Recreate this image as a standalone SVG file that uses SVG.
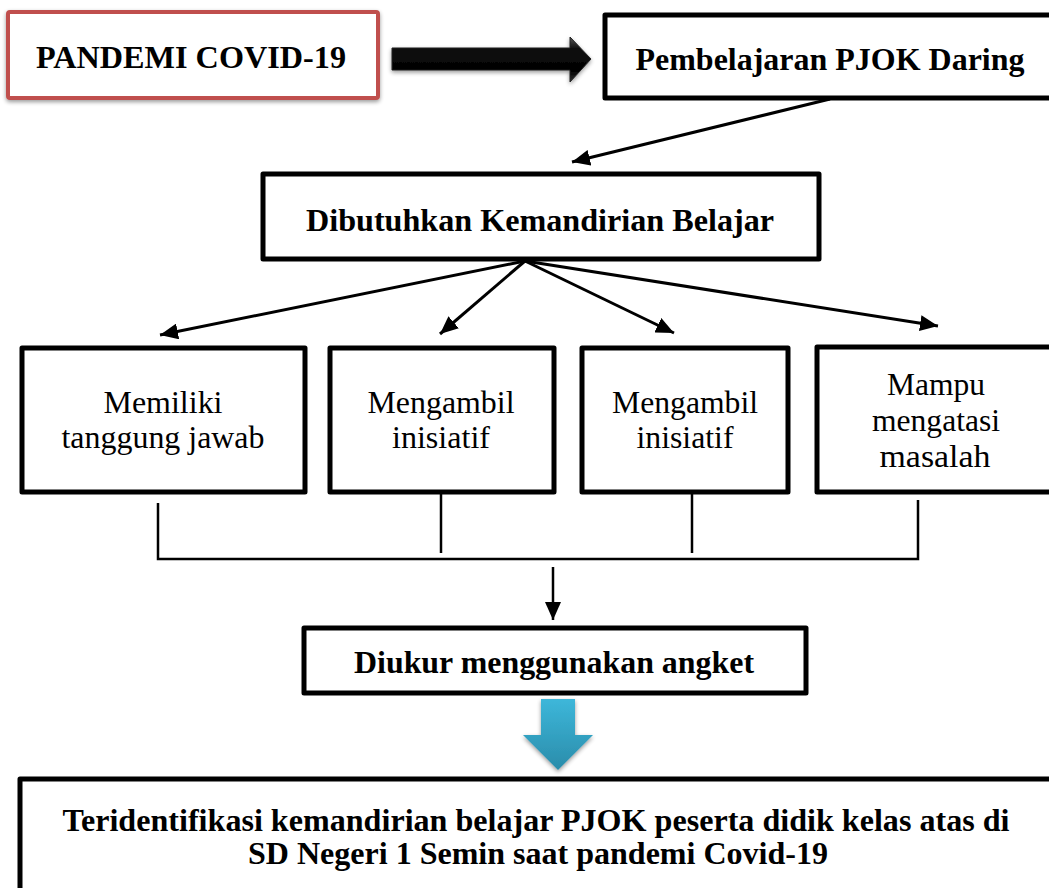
<svg xmlns="http://www.w3.org/2000/svg" width="1049" height="888" viewBox="0 0 1049 888">
<defs>
<style>
.box{fill:#fff;stroke:#000;stroke-width:5;stroke-linejoin:round}
.b{font-weight:bold;font-size:32px;fill:#000;text-anchor:middle}
.r{font-size:31px;fill:#000;text-anchor:middle}
.c{fill:none;stroke:#000;stroke-width:3}
.k{fill:none;stroke:#000;stroke-width:2.5}
</style>
<marker id="ah" markerUnits="userSpaceOnUse" markerWidth="20" markerHeight="16" viewBox="0 0 20 16" refX="18" refY="8" orient="auto">
<path d="M0,0 L18,8 L0,16 Z" fill="#000"/>
</marker>
<linearGradient id="blk" x1="0" y1="0" x2="0" y2="1">
<stop offset="0" stop-color="#555"/>
<stop offset="0.25" stop-color="#111"/>
<stop offset="0.75" stop-color="#000"/>
<stop offset="1" stop-color="#333"/>
</linearGradient>
<linearGradient id="blu" x1="0" y1="0" x2="0" y2="1">
<stop offset="0" stop-color="#3DB7DA"/>
<stop offset="1" stop-color="#2A8CAA"/>
</linearGradient>
<filter id="sh" x="-20%" y="-20%" width="140%" height="150%">
<feGaussianBlur in="SourceAlpha" stdDeviation="2"/>
<feOffset dx="0" dy="2" result="o"/>
<feComponentTransfer><feFuncA type="linear" slope="0.4"/></feComponentTransfer>
<feMerge><feMergeNode/><feMergeNode in="SourceGraphic"/></feMerge>
</filter>
</defs>
<rect width="1049" height="888" fill="#fff"/>
<g font-family="'Liberation Serif', 'Times New Roman', serif">

<g id="n-pandemi">
<rect x="8" y="12" width="370" height="86" rx="2" fill="#fff" stroke="#C0504D" stroke-width="4" filter="url(#sh)"/>
<text class="b" x="191" y="68" textLength="310" lengthAdjust="spacingAndGlyphs">PANDEMI COVID-19</text>
</g>

<g id="arrow-black" filter="url(#sh)">
<path d="M392,48 L570,48 L570,37 L591,59 L570,82 L570,70 L392,70 Z" fill="url(#blk)" stroke="#222" stroke-width="1"/>
</g>

<g id="n-pembelajaran">
<rect class="box" x="605" y="15" width="460" height="83"/>
<text class="b" x="830" y="70" textLength="389" lengthAdjust="spacingAndGlyphs">Pembelajaran PJOK Daring</text>
</g>

<g id="n-dibutuhkan">
<rect class="box" x="263" y="174" width="556" height="85"/>
<text class="b" x="540" y="231" textLength="468" lengthAdjust="spacingAndGlyphs">Dibutuhkan Kemandirian Belajar</text>
</g>

<g id="n-tanggung">
<rect class="box" x="22" y="348" width="283" height="144"/>
<text class="r" x="163" y="413" textLength="119" lengthAdjust="spacingAndGlyphs">Memiliki</text>
<text class="r" x="163" y="448" textLength="203" lengthAdjust="spacingAndGlyphs">tanggung jawab</text>
</g>

<g id="n-inisiatif1">
<rect class="box" x="330" y="348" width="224" height="144"/>
<text class="r" x="441" y="413" textLength="147" lengthAdjust="spacingAndGlyphs">Mengambil</text>
<text class="r" x="441" y="448" textLength="98" lengthAdjust="spacingAndGlyphs">inisiatif</text>
</g>

<g id="n-inisiatif2">
<rect class="box" x="582" y="348" width="206" height="144"/>
<text class="r" x="685" y="413" textLength="146" lengthAdjust="spacingAndGlyphs">Mengambil</text>
<text class="r" x="685" y="448" textLength="97" lengthAdjust="spacingAndGlyphs">inisiatif</text>
</g>

<g id="n-masalah">
<rect class="box" x="817" y="347" width="250" height="145"/>
<text class="r" x="936" y="395" textLength="98" lengthAdjust="spacingAndGlyphs">Mampu</text>
<text class="r" x="936" y="431" textLength="128" lengthAdjust="spacingAndGlyphs">mengatasi</text>
<text class="r" x="935" y="467" textLength="111" lengthAdjust="spacingAndGlyphs">masalah</text>
</g>

<g id="n-angket">
<rect class="box" x="304" y="628" width="502" height="65"/>
<text class="b" x="554" y="673" textLength="400" lengthAdjust="spacingAndGlyphs">Diukur menggunakan angket</text>
</g>

<g id="arrow-blue" filter="url(#sh)">
<path d="M541,699 L575,699 L575,735 L593,735 L558,770 L523,735 L541,735 Z" fill="url(#blu)"/>
</g>

<g id="n-hasil">
<rect class="box" x="20" y="779" width="1050" height="130"/>
<text class="b" x="536" y="831" textLength="947" lengthAdjust="spacingAndGlyphs">Teridentifikasi kemandirian belajar PJOK peserta didik kelas atas di</text>
<text class="b" x="538" y="864" textLength="580" lengthAdjust="spacingAndGlyphs">SD Negeri 1 Semin saat pandemi Covid-19</text>
</g>

</g>
<g id="connectors">
<line class="c" x1="830" y1="99" x2="572" y2="162" marker-end="url(#ah)"/>
<line class="c" x1="525" y1="261" x2="160" y2="335" marker-end="url(#ah)"/>
<line class="c" x1="525" y1="261" x2="440" y2="334" marker-end="url(#ah)"/>
<line class="c" x1="525" y1="261" x2="674" y2="333" marker-end="url(#ah)"/>
<line class="c" x1="525" y1="261" x2="938" y2="326" marker-end="url(#ah)"/>
<polyline class="k" points="158,503 158,559 918,559 918,500"/>
<line class="k" x1="441" y1="493" x2="441" y2="553"/>
<line class="k" x1="692" y1="493" x2="692" y2="553"/>
<line class="k" x1="553" y1="567" x2="553" y2="620" marker-end="url(#ah)"/>
</g>
</svg>
